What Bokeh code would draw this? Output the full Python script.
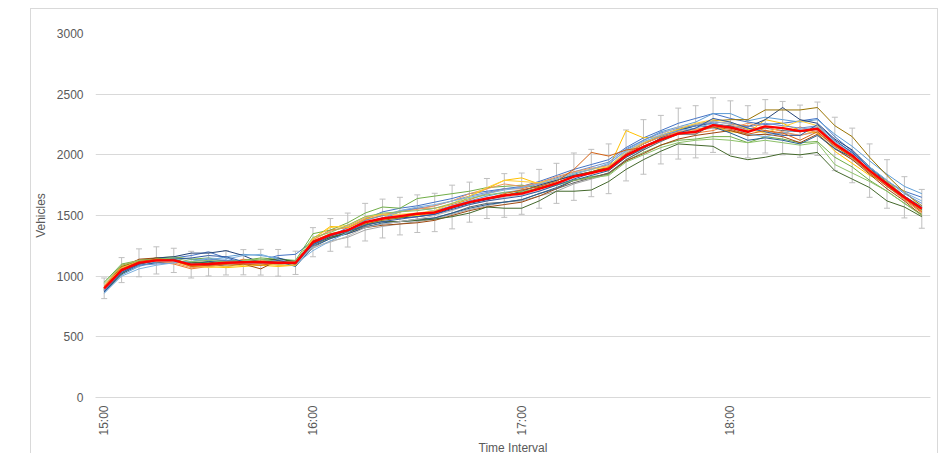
import math
from bokeh.plotting import figure
from bokeh.models import ColumnDataSource, Whisker, FixedTicker, TeeHead, Range1d, InlineStyleSheet
from bokeh.embed import file_html
from bokeh.resources import INLINE

TIMES = ["15:00","15:05","15:10","15:15","15:20","15:25","15:30","15:35","15:40","15:45","15:50","15:55",
         "16:00","16:05","16:10","16:15","16:20","16:25","16:30","16:35","16:40","16:45","16:50","16:55",
         "17:00","17:05","17:10","17:15","17:20","17:25","17:30","17:35","17:40","17:45","17:50","17:55",
         "18:00","18:05","18:10","18:15","18:20","18:25","18:30","18:35","18:40","18:45","18:50","18:55"]
TICK_INDEX = [0, 12, 24, 36]
Y_TICKS = [0, 500, 1000, 1500, 2000, 2500, 3000]

MEAN = [900,1050,1110,1130,1130,1095,1100,1110,1115,1115,1110,1110,1280,1340,1380,1445,1475,1495,1515,1525,1570,1610,1640,1665,
        1680,1720,1765,1820,1850,1885,1995,2065,2125,2175,2190,2245,2225,2190,2235,2220,2195,2215,2090,1995,1870,1760,1650,1555]
ERR = [85,103,115,112,100,110,98,100,104,106,110,96,120,135,140,155,160,155,155,158,180,165,165,180,
       170,160,165,195,195,205,210,225,200,210,215,225,220,215,220,220,215,220,220,225,220,200,170,160]

S01 = [880,1030,1100,1140,1150,1170,1200,1150,1110,1130,1170,1180,
       1290,1330,1400,1470,1530,1560,1580,1610,1640,1680,1700,1720,1740,1780,1830,1880,1920,1960,2060,2140,2200,2260,2300,2340,
       2300,2270,2250,2260,2280,2300,2150,2030,1900,1780,1700,1650]
S02 = [910,1080,1120,1120,1100,1060,1080,1100,1140,1120,1090,1090,
       1300,1380,1400,1460,1500,1530,1560,1560,1590,1630,1680,1720,1720,1760,1790,1830,1860,1870,1980,2060,2140,2190,2180,2200,
       2250,2240,2200,2170,2230,2180,2080,1970,1850,1740,1630,1520]
S03 = [870,1040,1100,1120,1130,1100,1090,1090,1100,1110,1100,1100,
       1230,1290,1320,1380,1410,1430,1450,1470,1510,1550,1580,1610,1620,1660,1700,1760,1800,1840,1960,2040,2120,2180,2200,2220,
       2200,2160,2170,2180,2160,2190,2060,1960,1860,1740,1640,1550]
S04 = [920,1090,1130,1140,1120,1080,1080,1070,1080,1090,1080,1090,
       1310,1410,1400,1470,1500,1490,1500,1520,1560,1660,1720,1790,1810,1760,1790,1830,1860,1890,2200,2140,2150,2190,2210,2230,
       2190,2180,2290,2260,2200,2180,2030,1930,1830,1770,1700,1560]
S05 = [860,1010,1080,1120,1150,1140,1130,1160,1180,1170,1150,1120,
       1260,1320,1360,1420,1470,1530,1560,1540,1580,1620,1660,1690,1710,1740,1790,1840,1880,1920,2040,2120,2190,2230,2270,2340,
       2340,2280,2310,2290,2270,2290,2170,2070,1950,1840,1740,1680]
S06 = [950,1100,1130,1150,1160,1140,1150,1120,1130,1150,1140,1130,
       1350,1380,1440,1520,1570,1560,1640,1660,1680,1700,1730,1740,1750,1730,1750,1790,1820,1840,1950,2020,2080,2120,2130,2150,
       2150,2100,2150,2130,2100,2110,1980,1900,1790,1700,1600,1510]
S07 = [890,1050,1120,1150,1160,1190,1190,1210,1170,1110,1150,1110,
       1270,1340,1380,1440,1480,1480,1490,1510,1560,1600,1630,1660,1700,1750,1790,1830,1860,1900,2010,2090,2150,2200,2240,2260,
       2230,2230,2290,2390,2290,2260,2130,2040,1900,1780,1660,1560]
S08 = [900,1070,1140,1150,1130,1090,1100,1080,1100,1060,1130,1100,
       1270,1320,1350,1400,1420,1430,1440,1460,1500,1540,1570,1590,1610,1660,1720,1790,1810,1850,1950,2010,2080,2130,2160,2180,
       2200,2160,2170,2150,2100,2170,2050,1960,1840,1720,1620,1500]
S09 = [880,1040,1110,1130,1130,1110,1120,1110,1120,1130,1110,1120,
       1250,1310,1360,1410,1430,1450,1470,1480,1520,1570,1600,1610,1630,1680,1720,1770,1810,1850,1960,2040,2110,2170,2170,2250,
       2240,2210,2220,2200,2190,2210,2090,1990,1870,1760,1650,1540]
S10 = [910,1080,1130,1140,1140,1100,1090,1100,1120,1120,1100,1110,
       1290,1340,1370,1430,1460,1480,1510,1530,1570,1610,1640,1670,1690,1730,1770,1820,1860,1900,2010,2090,2160,2210,2250,2280,
       2290,2290,2370,2370,2370,2390,2240,2150,1980,1830,1690,1580]
S11 = [870,1020,1090,1110,1120,1100,1120,1130,1120,1110,1120,1080,
       1240,1310,1350,1400,1440,1450,1460,1480,1520,1560,1590,1610,1630,1680,1730,1790,1830,1870,1980,2050,2140,2200,2240,2230,
       2180,2120,2140,2120,2090,2160,2050,1980,1870,1760,1650,1550]
S12 = [870,1020,1100,1130,1130,1110,1110,1120,1110,1130,1140,1120,
       1260,1320,1360,1420,1450,1450,1460,1470,1490,1520,1570,1560,1560,1620,1700,1700,1710,1780,1880,1960,2030,2090,2080,2070,
       1990,1960,1980,2010,2000,2020,1870,1800,1730,1620,1570,1490]
S13 = [880,1030,1090,1100,1110,1120,1140,1130,1110,1100,1120,1110,
       1260,1330,1380,1460,1500,1540,1560,1580,1620,1660,1690,1720,1730,1770,1810,1860,1900,1940,2050,2120,2180,2220,2240,2270,
       2260,2230,2260,2240,2220,2240,2100,2010,1900,1790,1680,1600]
S14 = [920,1090,1130,1120,1110,1070,1080,1100,1110,1130,1120,1100,
       1300,1370,1410,1480,1510,1530,1550,1580,1620,1680,1720,1760,1740,1770,1820,1860,1890,1910,2010,2090,2150,2190,2210,2240,
       2220,2260,2230,2190,2160,2200,2080,1990,1860,1750,1640,1530]
S15 = [890,1050,1110,1130,1120,1100,1100,1120,1110,1100,1100,1120,
       1240,1280,1330,1400,1430,1450,1470,1500,1540,1590,1620,1650,1670,1700,1750,1820,1850,1890,2020,2100,2170,2230,2250,2280,
       2250,2200,2230,2220,2200,2220,2100,2000,1880,1770,1660,1560]
S16 = [910,1070,1120,1140,1130,1090,1070,1080,1090,1100,1090,1090,
       1310,1400,1420,1490,1510,1510,1520,1540,1600,1660,1730,1790,1780,1770,1800,1850,1880,1900,2030,2100,2160,2210,2260,2290,
       2270,2210,2180,2230,2280,2240,2080,1980,1880,1780,1660,1540]
S17 = [860,1000,1060,1090,1110,1120,1150,1140,1170,1180,1140,1100,
       1210,1290,1360,1440,1480,1540,1570,1590,1620,1650,1680,1710,1730,1760,1800,1850,1880,1930,2030,2110,2160,2200,2220,2260,
       2230,2170,2150,2180,2210,2230,2110,2020,1900,1790,1690,1620]
S18 = [940,1090,1130,1140,1150,1120,1130,1120,1130,1140,1120,1120,
       1320,1360,1420,1490,1520,1530,1540,1560,1600,1640,1670,1690,1700,1720,1750,1790,1810,1830,1940,2000,2060,2100,2120,2130,
       2120,2100,2120,2100,2080,2100,1920,1850,1780,1700,1600,1500]
S19 = [870,1030,1100,1130,1140,1150,1170,1160,1120,1110,1130,1100,
       1260,1330,1370,1420,1450,1470,1490,1510,1550,1590,1620,1640,1660,1700,1750,1800,1850,1890,2000,2070,2130,2180,2220,2300,
       2270,2220,2190,2160,2160,2250,2120,2020,1890,1770,1660,1570]
S20 = [900,1060,1120,1140,1130,1080,1090,1100,1100,1090,1110,1100,
       1290,1350,1380,1440,1470,1490,1510,1520,1570,1610,1640,1680,1710,1740,1780,1880,2020,1990,2040,2060,2120,2170,2190,2230,
       2210,2170,2200,2180,2120,2190,2070,1980,1850,1740,1640,1530]

SERIES = [S01, S02, S03, S04, S05, S06, S07, S08, S09, S10, S11, S12, S13, S14, S15, S16, S17, S18, S19, S20]
COLORS = ["#4472C4", "#ED7D31", "#A5A5A5", "#FFC000", "#5B9BD5", "#70AD47", "#264478", "#9E480E", "#636363", "#997300",
          "#255E91", "#43682B", "#698ED0", "#F1975A", "#B7B7B7", "#FFCD33", "#7CAFDD", "#8CC168", "#335AA1", "#D26012"]

x = list(range(len(TIMES)))

p = figure(frame_width=835, frame_height=364, output_backend="svg", toolbar_location=None,
           x_range=Range1d(-0.5, len(TIMES) - 0.5), y_range=Range1d(0, 3000),
           min_border_left=65, min_border_top=25, min_border_right=8, min_border_bottom=4)
p.margin = (8, 0, 0, 30)
p.stylesheets = [InlineStyleSheet(css=":host { box-shadow: inset 0 0 0 1px #D9D9D9; background: white; }")]
p.outline_line_color = None
p.background_fill_color = "white"
p.border_fill_color = None

for s, c in zip(SERIES, COLORS):
    p.line(x, s, line_color=c, line_width=1)

lower = [m - e for m, e in zip(MEAN, ERR)]
upper = [m + e for m, e in zip(MEAN, ERR)]
src = ColumnDataSource(dict(x=x, lower=lower, upper=upper))
w = Whisker(source=src, base="x", lower="lower", upper="upper", line_color="#BFBFBF", line_width=1,
            upper_head=TeeHead(size=6, line_color="#BFBFBF", line_width=1),
            lower_head=TeeHead(size=6, line_color="#BFBFBF", line_width=1))
p.add_layout(w)

p.line(x, MEAN, line_color="#FF0000", line_width=2.4)

p.xgrid.grid_line_color = None
p.ygrid.grid_line_color = "#D9D9D9"
p.ygrid.ticker = FixedTicker(ticks=Y_TICKS)

p.yaxis.ticker = FixedTicker(ticks=Y_TICKS)
p.yaxis.axis_line_color = None
p.yaxis.major_tick_line_color = None
p.yaxis.minor_tick_line_color = None
p.yaxis.major_tick_out = 0
p.yaxis.major_label_standoff = 12
p.yaxis.axis_label = "Vehicles"
p.yaxis.axis_label_standoff = 6

p.xaxis.ticker = FixedTicker(ticks=TICK_INDEX)
p.xaxis.major_label_overrides = {i: TIMES[i] for i in TICK_INDEX}
p.xaxis.major_label_orientation = math.pi / 2
p.xaxis.axis_line_color = "#D9D9D9"
p.xaxis.major_tick_line_color = None
p.xaxis.minor_tick_line_color = None
p.xaxis.major_tick_out = 0
p.xaxis.major_label_standoff = 8
p.xaxis.axis_label = "Time Interval"
p.xaxis.axis_label_standoff = 2

for ax in (p.xaxis, p.yaxis):
    ax.major_label_text_font = "Liberation Sans"
    ax.major_label_text_font_size = "12px"
    ax.major_label_text_color = "#595959"
    ax.axis_label_text_font = "Liberation Sans"
    ax.axis_label_text_font_size = "12px"
    ax.axis_label_text_font_style = "normal"
    ax.axis_label_text_color = "#595959"

open("out.html", "w").write(file_html(p, INLINE))
